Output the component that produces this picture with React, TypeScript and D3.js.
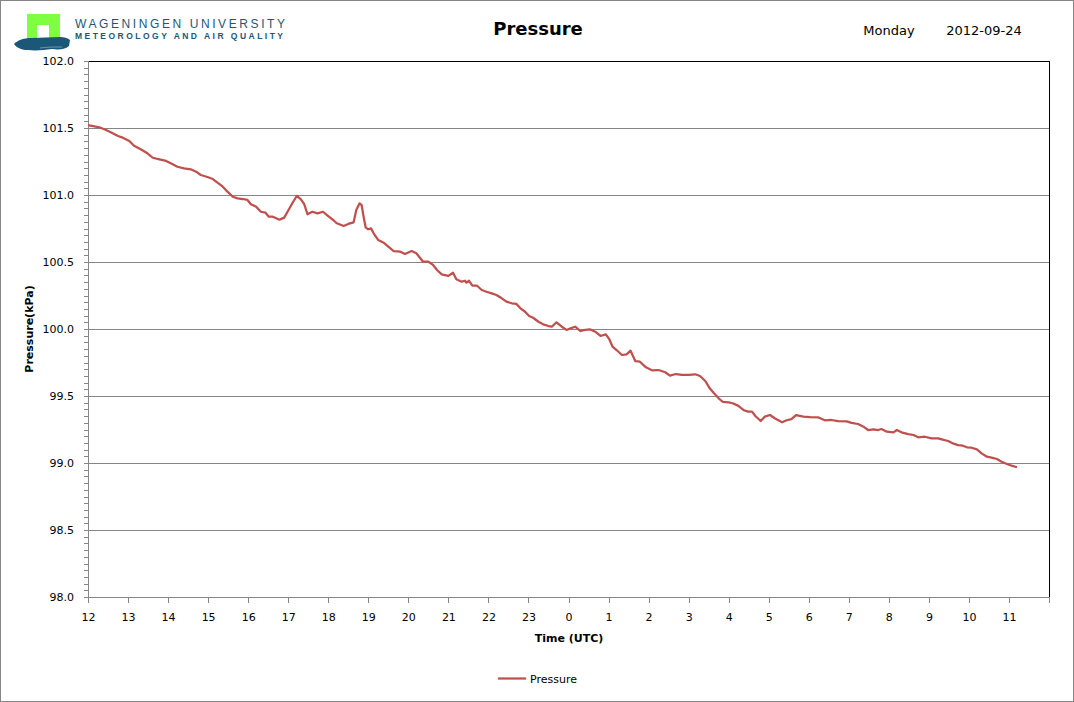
import * as React from "react";
import * as d3 from "d3";

// minutes after 12:00 UTC on 2012-09-24
const minutes: number[] = [
  0, 17, 27, 37, 45, 52, 62, 69, 79, 89, 97, 107, 117, 124, 134, 144, 154, 162, 169, 179,
  187, 194, 202, 209, 217, 224, 232, 239, 244, 252, 259, 266, 271, 277, 287, 294, 299, 307, 313, 319,
  324, 329, 336, 344, 352, 359, 369,
  373, 383, 390, 398, 402, 407, 410, 413, 416, 420, 424, 428, 435, 443, 450, 458, 468, 475, 485, 492,
  498, 502, 510, 517, 523, 530, 540, 547, 552, 560, 565, 567, 571, 576, 583, 590, 597, 605, 612, 620,
  627, 635, 642, 648, 655, 661, 667, 675, 682, 690, 695, 702, 710, 717, 723,
  730, 738, 745, 752, 760, 768, 776, 781, 786, 792, 800, 807, 813, 820, 827, 836, 845, 855, 865, 872,
  881, 890, 900, 910, 917, 925, 931, 938, 945, 951, 960, 966, 974, 982, 989, 995, 1000, 1008, 1014, 1022,
  1029, 1040, 1047, 1054, 1061, 1072, 1082,
  1094, 1104, 1114, 1124, 1137, 1144, 1154, 1162, 1169, 1177, 1184, 1189, 1197, 1207, 1212, 1219, 1229, 1237, 1244, 1254,
  1264, 1274, 1282, 1289, 1297, 1304, 1311, 1317, 1324, 1332, 1339, 1347, 1354, 1362, 1369, 1377, 1384, 1392
];

// pressure in kPa
const pressure: number[] = [
  101.522, 101.505, 101.485, 101.460, 101.440, 101.428, 101.403, 101.368, 101.341, 101.311,
  101.278, 101.266, 101.254, 101.237, 101.211, 101.199, 101.192, 101.174, 101.149, 101.134,
  101.119, 101.092, 101.062, 101.025, 100.987, 100.975, 100.970, 100.963, 100.931, 100.913,
  100.875, 100.868, 100.838, 100.838, 100.816, 100.831, 100.875, 100.946, 100.993, 100.968,
  100.931, 100.856, 100.875, 100.863, 100.875, 100.846, 100.806,
  100.789, 100.769, 100.784, 100.796, 100.888, 100.938, 100.925, 100.838, 100.759, 100.744,
  100.751, 100.714, 100.664, 100.644, 100.614, 100.582, 100.577, 100.560, 100.582, 100.565,
  100.528, 100.502, 100.502, 100.478, 100.440, 100.408, 100.396, 100.420, 100.371, 100.353,
  100.360, 100.346, 100.360, 100.323, 100.323, 100.291, 100.278, 100.266, 100.254, 100.229,
  100.204, 100.192, 100.187, 100.154, 100.129, 100.097, 100.084, 100.054, 100.035, 100.022,
  100.017, 100.050, 100.017, 99.993, 100.005,
  100.017, 99.985, 99.993, 99.998, 99.980, 99.948, 99.960, 99.925, 99.868, 99.843,
  99.806, 99.811, 99.838, 99.761, 99.756, 99.714, 99.692, 99.694, 99.677, 99.652,
  99.664, 99.657, 99.657, 99.662, 99.649, 99.612, 99.562, 99.520, 99.483, 99.457,
  99.453, 99.446, 99.428, 99.396, 99.383, 99.383, 99.351, 99.313, 99.346, 99.358,
  99.334, 99.304, 99.319, 99.328, 99.358, 99.346, 99.343,
  99.341, 99.319, 99.321, 99.313, 99.311, 99.299, 99.291, 99.271, 99.246, 99.251,
  99.246, 99.254, 99.234, 99.229, 99.246, 99.229, 99.216, 99.209, 99.192, 99.196,
  99.184, 99.184, 99.172, 99.164, 99.144, 99.134, 99.129, 99.117, 99.114, 99.102,
  99.072, 99.047, 99.040, 99.030, 99.010, 98.993, 98.980, 98.968
];

const hourLabels: string[] = [
  "12", "13", "14", "15", "16", "17", "18", "19", "20", "21", "22", "23",
  "0", "1", "2", "3", "4", "5", "6", "7", "8", "9", "10", "11"
];

const yTicks: number[] = [98, 98.5, 99, 99.5, 100, 100.5, 101, 101.5, 102];

type Margin = {
  top: number;
  bottom: number;
  left: number;
  right: number;
};

const WIDTH = 1074;
const HEIGHT = 702;
const GRID = "#868686";
const LINE = "#c0504d";
const FONT = "'DejaVu Sans', Verdana, sans-serif";

export default class App extends React.PureComponent {
  private margin: Margin = { left: 88, right: 25, top: 61, bottom: 105 };

  public componentDidMount(): void {
    this.drawChart();
  }

  public render(): JSX.Element {
    return <svg id="pressure-chart" width={WIDTH} height={HEIGHT}
                style={{ position: "absolute", left: 0, top: 0, background: "#fff" }}/>;
  }

  private drawChart(): void {
    const svg: d3.Selection<SVGSVGElement, unknown, HTMLElement, unknown> = d3.select("#pressure-chart");
    svg.selectAll("*").remove();

    const m = this.margin;
    const x0 = m.left;
    const x1 = WIDTH - m.right;
    const y0 = HEIGHT - m.bottom;
    const y1 = m.top;

    const x: d3.ScaleLinear<number, number> = d3.scaleLinear().domain([0, 1440]).range([x0, x1]);
    const y: d3.ScaleLinear<number, number> = d3.scaleLinear().domain([98, 102]).range([y0, y1]);

    // outer frame
    svg.append("rect")
      .attr("x", 0.5).attr("y", 0.5)
      .attr("width", WIDTH - 1).attr("height", HEIGHT - 1)
      .attr("fill", "#fff").attr("stroke", GRID);

    this.drawLogo(svg);

    svg.append("text")
      .attr("x", 538).attr("y", 35)
      .attr("text-anchor", "middle")
      .attr("font-family", FONT).attr("font-weight", "bold").attr("font-size", 18)
      .text("Pressure");
    svg.append("text")
      .attr("x", 889).attr("y", 35)
      .attr("text-anchor", "middle")
      .attr("font-family", FONT).attr("font-size", 13)
      .text("Monday");
    svg.append("text")
      .attr("x", 984).attr("y", 35)
      .attr("text-anchor", "middle")
      .attr("font-family", FONT).attr("font-size", 13)
      .text("2012-09-24");

    // plot area border
    svg.append("rect")
      .attr("x", x0 + 0.5).attr("y", y1 + 0.5)
      .attr("width", x1 - x0).attr("height", y0 - y1)
      .attr("fill", "none").attr("stroke", "#000");

    // horizontal gridlines
    svg.append("g")
      .selectAll("line")
      .data(yTicks.filter((t: number) => t > 98 && t < 102))
      .join("line")
      .attr("x1", x0).attr("x2", x1)
      .attr("y1", (d: number) => Math.round(y(d)) + 0.5)
      .attr("y2", (d: number) => Math.round(y(d)) + 0.5)
      .attr("stroke", GRID);

    // y axis with minor ticks every 0.05
    const minor: number[] = d3.range(0, 81).map((i: number) => 98 + i * 0.05);
    const yAxis = svg.append("g").attr("stroke", GRID);
    yAxis.append("line")
      .attr("x1", x0 + 0.5).attr("x2", x0 + 0.5)
      .attr("y1", y1).attr("y2", y0 + 1);
    yAxis.selectAll("line.minor")
      .data(minor)
      .join("line")
      .attr("class", "minor")
      .attr("x1", x0 - 4).attr("x2", x0)
      .attr("y1", (d: number) => Math.round(y(d)) + 0.5)
      .attr("y2", (d: number) => Math.round(y(d)) + 0.5);

    svg.append("g")
      .selectAll("text")
      .data(yTicks)
      .join("text")
      .attr("x", x0 - 14)
      .attr("y", (d: number) => y(d) + 4)
      .attr("text-anchor", "end")
      .attr("font-family", FONT).attr("font-size", 11)
      .text((d: number) => d3.format(".1f")(d));

    // x axis
    const hours: number[] = d3.range(0, 25);
    const xAxis = svg.append("g").attr("stroke", GRID);
    xAxis.append("line")
      .attr("x1", x0).attr("x2", x1 + 1)
      .attr("y1", y0 + 0.5).attr("y2", y0 + 0.5);
    xAxis.selectAll("line.tick")
      .data(hours)
      .join("line")
      .attr("class", "tick")
      .attr("x1", (d: number) => Math.round(x(d * 60)) + 0.5)
      .attr("x2", (d: number) => Math.round(x(d * 60)) + 0.5)
      .attr("y1", y0).attr("y2", y0 + 6);

    svg.append("g")
      .selectAll("text")
      .data(hourLabels)
      .join("text")
      .attr("x", (_d: string, i: number) => x(i * 60) + 0.5)
      .attr("y", y0 + 24)
      .attr("text-anchor", "middle")
      .attr("font-family", FONT).attr("font-size", 11)
      .text((d: string) => d);

    // axis titles
    svg.append("text")
      .attr("x", 569).attr("y", 642)
      .attr("text-anchor", "middle")
      .attr("font-family", FONT).attr("font-weight", "bold").attr("font-size", 11)
      .text("Time (UTC)");
    svg.append("text")
      .attr("transform", `translate(33, ${(y0 + y1) / 2}) rotate(-90)`)
      .attr("text-anchor", "middle")
      .attr("font-family", FONT).attr("font-weight", "bold").attr("font-size", 11)
      .text("Pressure(kPa)");

    // series
    const points: [number, number][] = d3.zip(minutes, pressure) as [number, number][];
    const line = d3.line<[number, number]>()
      .x((d: [number, number]) => x(d[0]))
      .y((d: [number, number]) => y(d[1]))
      .curve(d3.curveLinear);
    svg.append("path")
      .datum(points)
      .attr("d", line)
      .attr("fill", "none")
      .attr("stroke", LINE)
      .attr("stroke-width", 2.25)
      .attr("stroke-linejoin", "round");

    // legend
    svg.append("line")
      .attr("x1", 498).attr("x2", 526)
      .attr("y1", 678.5).attr("y2", 678.5)
      .attr("stroke", LINE).attr("stroke-width", 2.25);
    svg.append("text")
      .attr("x", 530).attr("y", 683)
      .attr("font-family", FONT).attr("font-size", 11)
      .text("Pressure");
  }

  private drawLogo(svg: d3.Selection<SVGSVGElement, unknown, HTMLElement, unknown>): void {
    const logo = svg.append("g");
    logo.append("path")
      .attr("d", "M27,14 H60 V39 H49 V25 H37 V39 H27 Z")
      .attr("fill", "#80ff40");
    logo.append("path")
      .attr("d", "M14,44 C18,40 24,38 31,38 L60,37 C64,37 68,38 70,40 L69,46 C66,49 60,50 52,49 C44,50 36,51 28,50 C22,50 17,48 14,44 Z")
      .attr("fill", "#1b5878");
    logo.append("path")
      .attr("d", "M40,48 C46,47 54,47 62,47")
      .attr("stroke", "#7fa6bb").attr("stroke-width", 0.8).attr("fill", "none");
    logo.append("text")
      .attr("x", 75).attr("y", 28)
      .attr("textLength", 210).attr("lengthAdjust", "spacing")
      .attr("font-family", "'Liberation Sans', Arial, sans-serif").attr("font-size", 12)
      .attr("fill", "#1b5878")
      .text("WAGENINGEN UNIVERSITY");
    logo.append("text")
      .attr("x", 75).attr("y", 39)
      .attr("textLength", 208).attr("lengthAdjust", "spacing")
      .attr("font-family", "'Liberation Sans', Arial, sans-serif").attr("font-size", 8.5)
      .attr("font-weight", "bold")
      .attr("fill", "#1b5878")
      .text("METEOROLOGY AND AIR QUALITY");
  }
}
